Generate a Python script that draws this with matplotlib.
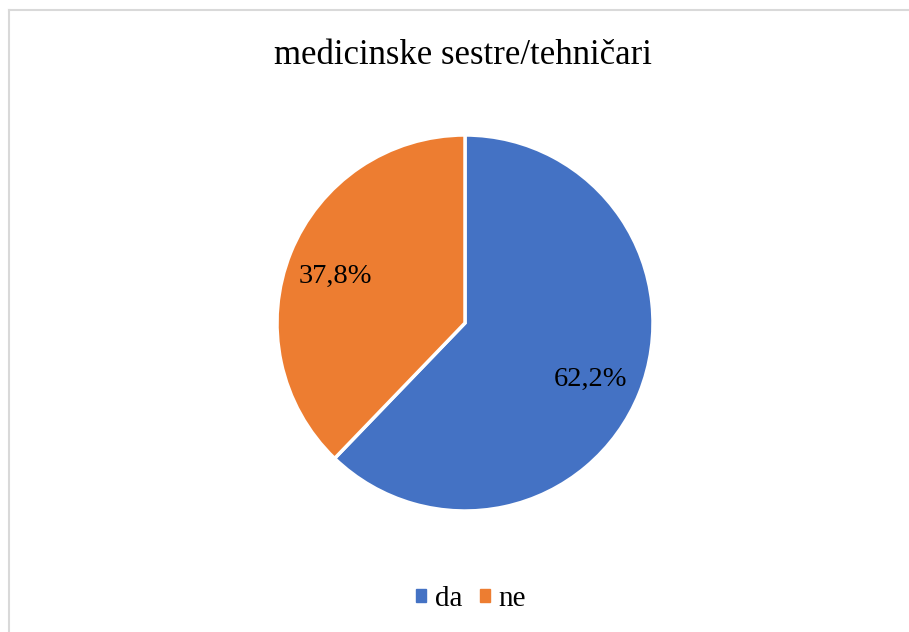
import matplotlib.pyplot as plt
from matplotlib.lines import Line2D
from matplotlib.patches import Patch

# data
labels = ["da", "ne"]
values = [62.2, 37.8]
colors = ["#4472C4", "#ED7D31"]
title = "medicinske sestre/tehničari"

plt.rcParams['font.family'] = ['Liberation Serif', 'DejaVu Serif']

W, H = 909, 632
fig = plt.figure(figsize=(W / 100, H / 100), dpi=100)

# pie axes: centre ~ (465, 323) px, radius ~188 px
cx, cy, r = 465, 323, 188
ax = fig.add_axes([(cx - r) / W, (H - cy - r) / H, 2 * r / W, 2 * r / H])
wedges, texts, autotexts = ax.pie(
    values, colors=colors, startangle=90, counterclock=False,
    autopct=lambda p: f"{p:.1f}%".replace(".", ","), pctdistance=0.73,
    wedgeprops=dict(edgecolor="white", linewidth=2.5),
    textprops=dict(fontsize=20.5, color="black"))
# labels sit a little lower in the original
for t in autotexts:
    x, y = t.get_position()
    t.set_position((x - 0.01, y - 0.025))
ax.set_xlim(-1, 1)
ax.set_ylim(-1, 1)
ax.set_aspect("equal")
ax.axis("off")

fig.text(463 / W, 1 - 55 / H, title, ha="center", va="center", fontsize=25)

handles = [Patch(facecolor=c, edgecolor=c) for c in colors]
fig.legend(handles, labels, loc="center", bbox_to_anchor=(471 / W, 1 - 599 / H),
           ncol=2, frameon=False, fontsize=21, handlelength=0.34, handleheight=0.34,
           handletextpad=0.3, columnspacing=0.6, borderpad=0, borderaxespad=0)

# frame lines (only top and left visible in the crop)
fig.add_artist(Line2D([8.5 / W, 1], [1 - 9.5 / H, 1 - 9.5 / H], color="#d9d9d9", lw=1.5))
fig.add_artist(Line2D([8.5 / W, 8.5 / W], [0, 1 - 9.5 / H], color="#d9d9d9", lw=1.5))

fig.savefig("out.png", dpi=100)
